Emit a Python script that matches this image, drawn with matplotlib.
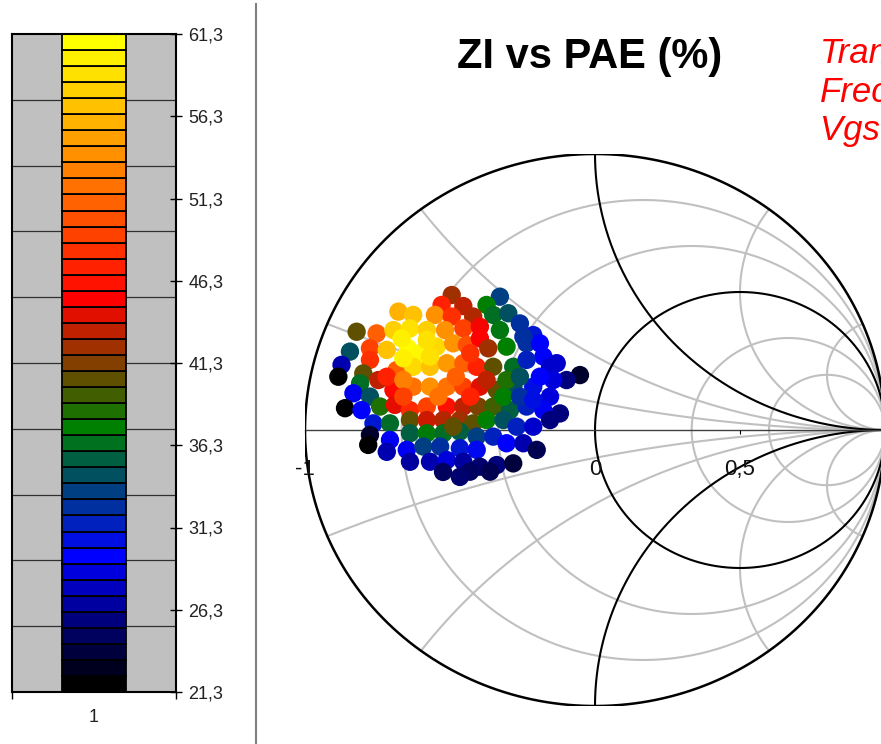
import numpy as np
import matplotlib.pyplot as plt
from matplotlib.colors import LinearSegmentedColormap
from matplotlib.lines import Line2D

plt.rcParams['font.family'] = ['Liberation Sans', 'DejaVu Sans']

# colour scale (PAE %)
scale_min = 21.3
scale_max = 61.3
n_steps = 41
scale_ticks = [21.3, 26.3, 31.3, 36.3, 41.3, 46.3, 51.3, 56.3, 61.3]
scale_labels = ['21,3', '26,3', '31,3', '36,3', '41,3', '46,3', '51,3', '56,3', '61,3']
grid_levels = [25.3, 29.3, 33.3, 37.3, 41.3, 45.3, 49.3, 53.3, 57.3]
anchor_pos = [0.0, 0.2, 0.4, 0.6, 1.0]
anchor_cols = ['#000000', '#0000FF', '#008000', '#FF0000', '#FFFF00']

# smith chart
axis_ticks = [-1, -0.5, 0, 0.5]
axis_labels = ['-1', '-0,5', '0', '0,5']
r_grey = [0.2, 0.5, 2, 4]
r_black = [1]
x_grey = [0.2, 0.5, 2, 5, -0.2, -0.5, -2, -5]
x_black = [1, -1]

# load-pull points: reflection coefficient and PAE
gamma_re = [-0.494, -0.328, -0.529, -0.454, -0.374, -0.678, -0.627, -0.552, -0.494, -0.420,
            -0.351, -0.299, -0.822, -0.753, -0.695, -0.638, -0.580, -0.517, -0.454, -0.397,
            -0.328, -0.259, -0.213, -0.845, -0.776, -0.776, -0.718, -0.644, -0.603, -0.546,
            -0.489, -0.442, -0.397, -0.368, -0.305, -0.236, -0.190, -0.178, -0.132, -0.052,
            -0.874, -0.885, -0.799, -0.810, -0.747, -0.684, -0.627, -0.569, -0.511, -0.454,
            -0.408, -0.351, -0.282, -0.236, -0.155, -0.098, -0.833, -0.776, -0.741, -0.695,
            -0.627, -0.569, -0.511, -0.454, -0.397, -0.339, -0.282, -0.213, -0.155, -0.121,
            -0.862, -0.805, -0.764, -0.690, -0.638, -0.580, -0.511, -0.454, -0.402, -0.351,
            -0.293, -0.236, -0.178, -0.707, -0.638, -0.580, -0.523, -0.466, -0.420, -0.374,
            -0.316, -0.270, -0.213, -0.155, -0.776, -0.782, -0.707, -0.638, -0.580, -0.523,
            -0.466, -0.408, -0.351, -0.305, -0.247, -0.201, -0.718, -0.649, -0.592, -0.534,
            -0.466, -0.408, -0.638, -0.569, -0.511, -0.454, -0.397, -0.339, -0.282, -0.431,
            -0.362, -0.524, -0.466, -0.144, -0.190, -0.247, -0.667, -0.580, -0.661, -0.569,
            -0.430, -0.718, -0.661, -0.480, -0.374, -0.305, -0.259, -0.540, -0.430, -0.661,
            -0.316, -0.259, -0.213, -0.489]
gamma_im = [0.489, 0.483, 0.453, 0.449, 0.453, 0.429, 0.417, 0.417, 0.411, 0.411,
            0.417, 0.423, 0.356, 0.350, 0.362, 0.368, 0.362, 0.362, 0.368, 0.374,
            0.362, 0.386, 0.344, 0.284, 0.296, 0.254, 0.290, 0.296, 0.278, 0.302,
            0.314, 0.308, 0.332, 0.296, 0.302, 0.314, 0.314, 0.266, 0.242, 0.199,
            0.236, 0.193, 0.205, 0.169, 0.181, 0.217, 0.229, 0.229, 0.242, 0.242,
            0.229, 0.229, 0.229, 0.254, 0.229, 0.181, 0.133, 0.121, 0.085, 0.145,
            0.157, 0.157, 0.157, 0.157, 0.157, 0.145, 0.157, 0.157, 0.121, 0.060,
            0.079, 0.072, 0.024, 0.091, 0.072, 0.085, 0.085, 0.085, 0.085, 0.085,
            0.072, 0.085, 0.072, 0.024, 0.036, 0.036, 0.036, 0.036, 0.024, 0.036,
            0.036, 0.012, 0.012, 0.036, -0.018, -0.054, -0.036, -0.012, -0.012, -0.012,
            -0.006, -0.024, -0.024, -0.048, -0.048, -0.072, -0.079, -0.072, -0.060, -0.060,
            -0.066, -0.072, -0.115, -0.115, -0.109, -0.115, -0.133, -0.127, -0.121, -0.151,
            -0.151, -0.152, -0.170, 0.181, 0.193, 0.338, 0.332, 0.326, 0.260, 0.266,
            0.278, 0.193, 0.181, 0.193, 0.181, 0.181, 0.193, 0.121, 0.121, 0.121,
            0.121, 0.121, 0.109, 0.012]
pae = [42.3, 33.3, 47.3, 43.3, 37.3, 56.3, 57.3, 54.3, 48.3, 42.8,
       36.3, 34.3, 40.3, 51.3, 58.3, 59.3, 58.3, 54.3, 49.3, 45.0,
       36.8, 32.3, 30.8, 34.3, 49.3, 48.3, 57.3, 61.0, 60.8, 58.8,
       54.5, 50.3, 45.3, 42.3, 37.3, 32.3, 29.3, 29.3, 27.8, 22.8,
       26.8, 21.3, 40.3, 36.3, 43.3, 51.3, 58.8, 57.3, 54.8, 51.3,
       47.3, 40.3, 36.3, 31.3, 27.8, 25.3, 28.8, 34.3, 38.3, 45.8,
       52.3, 54.3, 52.3, 49.3, 44.3, 40.3, 34.3, 30.3, 28.3, 25.3,
       21.3, 29.3, 30.8, 44.5, 47.8, 49.3, 46.3, 43.3, 41.3, 39.3,
       35.3, 31.3, 29.0, 36.0, 40.3, 43.8, 43.0, 42.3, 40.3, 37.3,
       34.3, 31.3, 27.8, 25.3, 22.8, 21.3, 29.0, 35.3, 37.0, 36.3,
       35.3, 33.3, 31.3, 29.3, 26.8, 23.8, 26.8, 29.0, 33.3, 32.3,
       30.8, 29.8, 26.3, 26.8, 28.3, 26.3, 24.8, 25.3, 23.3, 24.3,
       23.8, 24.3, 24.8, 28.3, 29.3, 32.3, 60.3, 59.3, 60.3, 59.3,
       48.3, 47.3, 53.3, 51.3, 43.3, 38.3, 34.3, 52.3, 47.3, 49.3,
       37.3, 32.3, 30.3, 40.3]

cmap = LinearSegmentedColormap.from_list('pae', list(zip(anchor_pos, anchor_cols)))

fig = plt.figure(figsize=(8.81, 7.44), dpi=100)

# colour scale panel
cax = fig.add_axes([12/881, 52/744, 164/881, 658/744])
cax.set_facecolor('#C0C0C0')
cax.set_xlim(0.5, 1.5)
cax.set_ylim(scale_min, scale_max)
cax.hlines(grid_levels, 0.5, 1.5, color='#303030', lw=0.9, zorder=1)
step = (scale_max - scale_min) / n_steps
bottoms = scale_min + step * np.arange(n_steps)
cax.bar(np.ones(n_steps), step, width=0.39, bottom=bottoms,
        color=cmap(np.linspace(0, 1, n_steps)), edgecolor='black', linewidth=1.3, zorder=2)
cax.yaxis.tick_right()
cax.set_yticks(scale_ticks, scale_labels)
cax.tick_params(axis='y', direction='inout', length=8, width=1, pad=5, labelsize=13, labelcolor='#222222')
cax.set_xticks([1], ['1'])
cax.set_xticks([0.5, 1.5], minor=True)
cax.tick_params(axis='x', which='major', length=0, pad=12, labelsize=13, labelcolor='#222222')
cax.tick_params(axis='x', which='minor', length=5, width=1)
for s in cax.spines.values():
    s.set_linewidth(1.5)

# separator
fig.add_artist(Line2D([256/881, 256/881], [0, 1 - 4/744], color='#808080', lw=1.5))

# smith chart
sax = fig.add_axes([305/881, 38/744, 580/881, 552/744])
sax.set_xlim(-1, 1)
sax.set_ylim(-1, 1)
t = np.linspace(0, 2*np.pi, 500)
for r in r_grey:
    c, rad = r/(1+r), 1/(1+r)
    sax.plot(c + rad*np.cos(t), rad*np.sin(t), color='#C0C0C0', lw=1.5, zorder=0.5)
rr = np.tan(np.linspace(0, np.pi/2 - 1e-3, 500))
for x in x_grey:
    g = (rr + 1j*x - 1) / (rr + 1j*x + 1)
    sax.plot(g.real, g.imag, color='#C0C0C0', lw=1.5, zorder=0.5)
for r in r_black:
    c, rad = r/(1+r), 1/(1+r)
    sax.plot(c + rad*np.cos(t), rad*np.sin(t), color='black', lw=1.5, zorder=0.6)
for x in x_black:
    g = (rr + 1j*x - 1) / (rr + 1j*x + 1)
    sax.plot(g.real, g.imag, color='black', lw=1.5, zorder=0.6)
sax.plot(np.cos(t), np.sin(t), color='black', lw=1.8, zorder=0.6)

sax.scatter(gamma_re, gamma_im, c=pae, cmap=cmap, vmin=scale_min, vmax=scale_max,
            s=175, edgecolors='none', zorder=2)

for side in ['left', 'right', 'top']:
    sax.spines[side].set_visible(False)
sax.spines['bottom'].set_position(('data', 0))
sax.spines['bottom'].set_color('#404040')
sax.spines['bottom'].set_linewidth(1)
sax.spines['bottom'].set_zorder(0.7)
sax.set_yticks([])
sax.set_xticks(axis_ticks, axis_labels)
sax.tick_params(axis='x', direction='out', length=3, width=0.8, pad=18, labelsize=16, labelcolor='#111111')

# titles
fig.text(590/881, 1 - 68/744, 'ZI vs PAE (%)', ha='center', va='baseline', fontsize=30, fontweight='bold')
fig.text(820/881, 1 - 63/744, 'Transistor', color='red', style='italic', fontsize=25, va='baseline')
fig.text(820/881, 1 - 102/744, 'Frecuencia', color='red', style='italic', fontsize=25, va='baseline')
fig.text(820/881, 1 - 140/744, 'Vgs =', color='red', style='italic', fontsize=25, va='baseline')

fig.savefig('out.png', dpi=100)
